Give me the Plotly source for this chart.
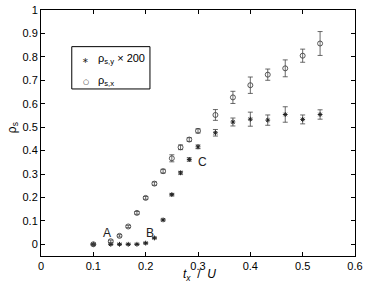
import plotly.graph_objects as go

# data
tx = [0.1, 0.1333, 0.15, 0.1667, 0.1833, 0.2, 0.2167, 0.2333, 0.25, 0.2667,
      0.2833, 0.3, 0.3333, 0.3667, 0.4, 0.4333, 0.4667, 0.5, 0.5333]
rho_x = [0.0, 0.013, 0.036, 0.076, 0.134, 0.198, 0.259, 0.312, 0.367, 0.414,
         0.447, 0.484, 0.552, 0.627, 0.679, 0.724, 0.751, 0.805, 0.857]
rho_x_err = [0.004, 0.005, 0.005, 0.005, 0.006, 0.006, 0.007, 0.008, 0.015, 0.01,
             0.008, 0.009, 0.023, 0.026, 0.035, 0.024, 0.036, 0.028, 0.051]
rho_y = [0.0, 0.0, 0.0, 0.0, 0.0, 0.005, 0.027, 0.104, 0.212, 0.305,
         0.362, 0.416, 0.476, 0.522, 0.534, 0.530, 0.554, 0.533, 0.554]
rho_y_err = [0.002, 0.002, 0.002, 0.002, 0.002, 0.003, 0.003, 0.004, 0.005, 0.006,
             0.007, 0.008, 0.014, 0.017, 0.03, 0.022, 0.033, 0.019, 0.02]
series_names = ["ρ<sub>s,y</sub> × 200", "ρ<sub>s,x</sub>"]
labels = ["A", "B", "C"]
label_x = [0.126, 0.208, 0.309]
label_y = [0.047, 0.047, 0.352]

xticks = [0, 0.1, 0.2, 0.3, 0.4, 0.5, 0.6]
yticks = [0, 0.1, 0.2, 0.3, 0.4, 0.5, 0.6, 0.7, 0.8, 0.9, 1]

font = "Liberation Sans, Arial, sans-serif"
ink = "#222"

fig = go.Figure()
fig.add_trace(go.Scatter(
    x=tx, y=rho_y, mode="markers", name=series_names[0],
    marker=dict(symbol="asterisk-open", size=4, color=ink, line=dict(width=1, color=ink)),
    error_y=dict(type="data", array=rho_y_err, color="#444", thickness=0.8, width=2.5),
))
fig.add_trace(go.Scatter(
    x=tx, y=rho_x, mode="markers", name=series_names[1],
    marker=dict(symbol="circle-open", size=5, color="#444", line=dict(width=0.9, color="#444")),
    error_y=dict(type="data", array=rho_x_err, color="#444", thickness=0.8, width=2.5),
))
for t, lx, ly in zip(labels, label_x, label_y):
    fig.add_annotation(x=lx, y=ly, text=t, showarrow=False,
                       font=dict(family=font, size=12, color=ink), xanchor="center", yanchor="middle")

# axis titles
fig.add_annotation(xref="paper", yref="paper", x=0.506, y=-0.077, xanchor="center", yanchor="middle",
                   text="<i>t<sub>x</sub></i>  /  <i>U</i>", showarrow=False,
                   font=dict(family=font, size=12, color="black"))
fig.add_annotation(xref="paper", yref="paper", x=-0.089, y=0.52, xanchor="center", yanchor="middle",
                   text="ρ<sub>s</sub>", textangle=-90, showarrow=False,
                   font=dict(family=font, size=12, color="black"))

# legend box (drawn by hand to match spacing)
fig.add_shape(type="rect", xref="paper", yref="paper", x0=0.098, x1=0.347, y0=0.679, y1=0.851,
              line=dict(color="black", width=1), fillcolor="white", layer="below")
leg_rows = [0.795, 0.707]
leg_syms = ["∗", "○"]
for sym, name, ry in zip(leg_syms, series_names, leg_rows):
    fig.add_annotation(xref="paper", yref="paper", x=0.143, y=ry, xanchor="center", yanchor="middle",
                       text=sym, showarrow=False,
                       font=dict(family="DejaVu Sans", size=7 if sym == "○" else 8, color=ink))
    fig.add_annotation(xref="paper", yref="paper", x=0.174, y=ry + 0.005, xanchor="left", yanchor="middle",
                       text=name, showarrow=False,
                       font=dict(family=font, size=11, color="black"))

axis_common = dict(showline=True, linecolor="black", linewidth=1, mirror="ticks",
                   ticks="inside", ticklen=4, tickcolor="black", showgrid=False, zeroline=False,
                   automargin=False,
                   tickfont=dict(family=font, size=11, color="black"))
fig.update_xaxes(range=[0, 0.6], tickvals=xticks, ticktext=[f"{v:g}" for v in xticks], **axis_common)
fig.update_yaxes(range=[-0.05, 1.0], tickvals=yticks, ticktext=[f"{v:g}" for v in yticks], **axis_common)
fig.update_layout(
    width=366, height=287,
    margin=dict(l=41, r=11, t=10, b=31, autoexpand=False),
    paper_bgcolor="white", plot_bgcolor="white",
    showlegend=False,
)
fig.write_html("out.html", config={"displayModeBar": False},
               post_script="document.body.style.margin='0';document.body.style.overflow='hidden';")
